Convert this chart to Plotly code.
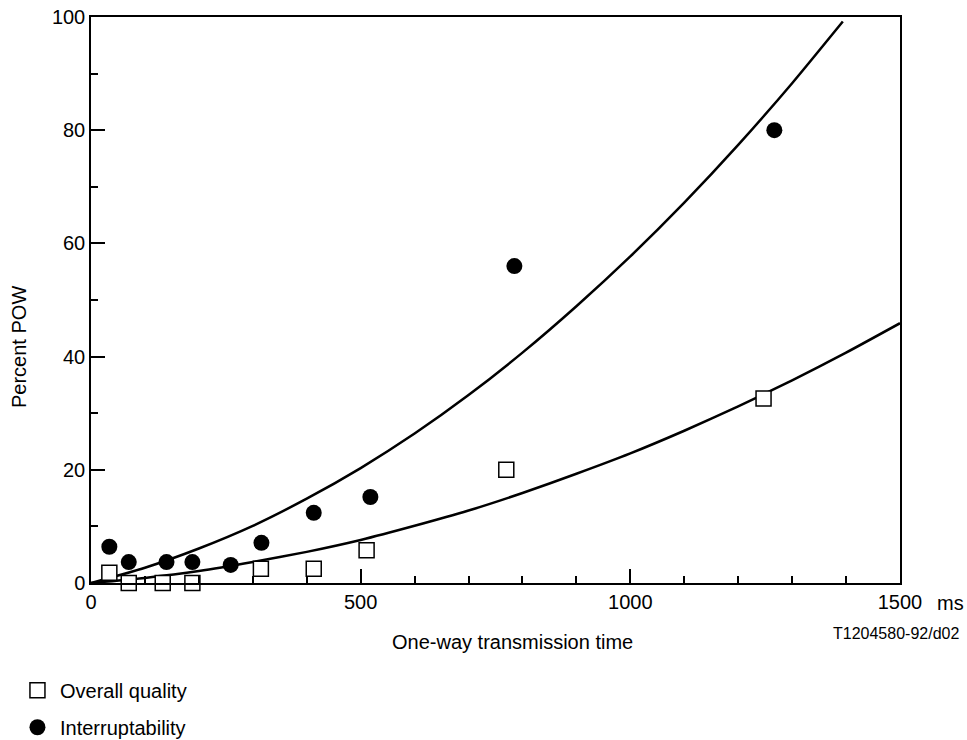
import plotly.graph_objects as go

# Data
quality_x = [34, 70, 133, 188, 315, 413, 511, 770, 1247]
quality_y = [1.8, 0, 0, 0, 2.5, 2.5, 5.8, 20.0, 32.6]

interrupt_x = [34, 70, 140, 188, 259, 316, 413, 518, 785, 1267]
interrupt_y = [6.4, 3.7, 3.7, 3.7, 3.2, 7.1, 12.4, 15.2, 56.0, 80.0]

upper_curve_x = [0, 100, 200, 300, 400, 500, 600, 700, 800, 900, 1000, 1100, 1200, 1300, 1394]
upper_curve_y = [0, 2.7, 6.1, 10.1, 14.9, 20.3, 26.4, 33.2, 40.7, 48.9, 57.7, 67.2, 77.4, 88.3, 99.2]

lower_curve_x = [0, 100, 200, 300, 400, 500, 600, 700, 800, 900, 1000, 1100, 1200, 1300, 1400, 1500]
lower_curve_y = [0, 0.9, 2.1, 3.7, 5.5, 7.6, 10.1, 12.8, 15.9, 19.3, 22.9, 26.9, 31.2, 35.8, 40.7, 45.9]

x_ticks = [0, 500, 1000, 1500]
y_ticks = [0, 20, 40, 60, 80, 100]

FONT = "Liberation Sans, Arial, Helvetica, sans-serif"

fig = go.Figure()
fig.add_trace(go.Scatter(x=upper_curve_x, y=upper_curve_y, mode="lines",
                         line=dict(color="black", width=2.5, shape="spline", smoothing=0.6),
                         showlegend=False, hoverinfo="skip"))
fig.add_trace(go.Scatter(x=lower_curve_x, y=lower_curve_y, mode="lines",
                         line=dict(color="black", width=2.5, shape="spline", smoothing=0.6),
                         showlegend=False, hoverinfo="skip"))
fig.add_trace(go.Scatter(x=quality_x, y=quality_y, mode="markers", name="Overall quality",
                         legendgroup="a",
                         marker=dict(symbol="square", size=15, color="white",
                                     line=dict(color="black", width=1.5)),
                         cliponaxis=False))
fig.add_trace(go.Scatter(x=interrupt_x, y=interrupt_y, mode="markers", name="Interruptability",
                         legendgroup="b",
                         marker=dict(symbol="circle", size=16, color="black",
                                     line=dict(color="black", width=0)),
                         cliponaxis=False))

axis_common = dict(showgrid=False, zeroline=False, showline=True, mirror=True,
                   linecolor="black", linewidth=1.5, ticks="inside", ticklen=14,
                   tickwidth=1.5, tickcolor="black", automargin=False,
                   tickfont=dict(family=FONT, size=20, color="black"))

fig.update_xaxes(range=[0, 1500], tickvals=x_ticks, ticktext=[str(v) for v in x_ticks],
                 minor=dict(dtick=100, ticks="inside", ticklen=7, tickwidth=1.5, tickcolor="black"),
                 **axis_common)
fig.update_yaxes(range=[0, 100], tickvals=y_ticks, ticktext=[str(v) for v in y_ticks],
                 minor=dict(dtick=10, ticks="inside", ticklen=7, tickwidth=1.5, tickcolor="black"),
                 **axis_common)

txt = dict(xref="paper", yref="paper", showarrow=False, xanchor="center", yanchor="middle")
# axis titles placed like the original
fig.add_annotation(text="One-way transmission time", x=(512 - 91) / 809, y=(583 - 642) / 566,
                   font=dict(family=FONT, size=20, color="black"), **txt)
fig.add_annotation(text="Percent POW", x=(19 - 91) / 809, y=(583 - 347) / 566, textangle=-90,
                   font=dict(family=FONT, size=20, color="black"), **txt)
fig.add_annotation(text="ms", x=(950 - 91) / 809, y=(583 - 603) / 566,
                   font=dict(family=FONT, size=20, color="black"), **txt)
fig.add_annotation(text="T1204580-92/d02", x=(896 - 91) / 809, y=(583 - 633) / 566,
                   font=dict(family=FONT, size=16, color="black"), **txt)

fig.update_layout(
    width=967, height=740,
    margin=dict(l=91, r=67, t=17, b=157, autoexpand=False),
    paper_bgcolor="white", plot_bgcolor="white",
    font=dict(family=FONT, size=20, color="black"),
    legend=dict(x=-0.094, y=-0.155, xanchor="left", yanchor="top", itemwidth=35,
                bgcolor="rgba(0,0,0,0)", borderwidth=0, tracegroupgap=8,
                font=dict(family=FONT, size=20, color="black")),
)

fig.write_html("out.html")
